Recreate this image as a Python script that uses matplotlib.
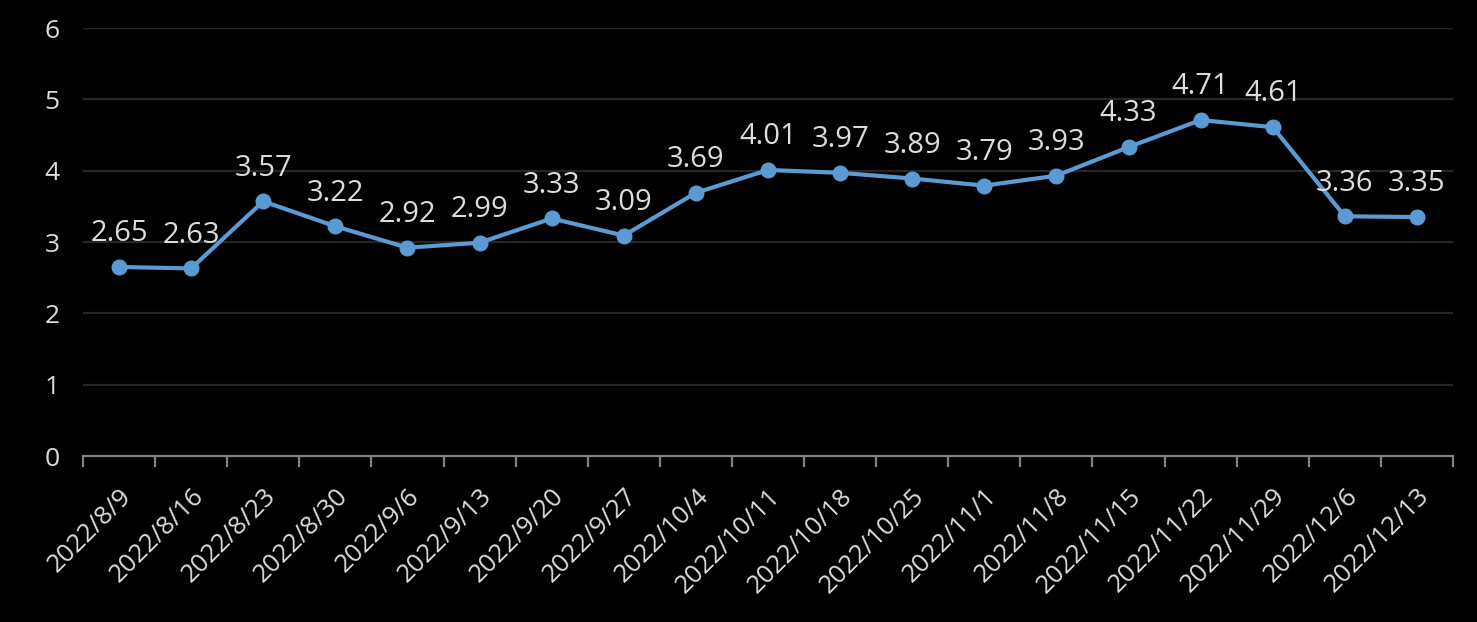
import numpy as np
import matplotlib
matplotlib.use('Agg')
import matplotlib.pyplot as plt

plt.rcParams['font.family'] = ['Open Sans', 'DejaVu Sans']

# Data
dates = ['2022/8/9', '2022/8/16', '2022/8/23', '2022/8/30', '2022/9/6', '2022/9/13',
         '2022/9/20', '2022/9/27', '2022/10/4', '2022/10/11', '2022/10/18', '2022/10/25',
         '2022/11/1', '2022/11/8', '2022/11/15', '2022/11/22', '2022/11/29', '2022/12/6',
         '2022/12/13']
values = [2.65, 2.63, 3.57, 3.22, 2.92, 2.99, 3.33, 3.09, 3.69, 4.01, 3.97, 3.89,
          3.79, 3.93, 4.33, 4.71, 4.61, 3.36, 3.35]
y_ticks = [0, 1, 2, 3, 4, 5, 6]

text_color = '#DCDCDC'
line_color = '#5B9BD5'

fig = plt.figure(figsize=(14.77, 6.22), dpi=100, facecolor='black')
ax = fig.add_axes([83 / 1477, 1 - 456 / 622, (1453 - 83) / 1477, (456 - 28) / 622])
ax.set_facecolor('black')

x = np.arange(len(dates))
ax.plot(x, values, color=line_color, linewidth=3, marker='o', markersize=10.5,
        zorder=3)

for xi, v in zip(x, values):
    ax.annotate(f'{v:.2f}', (xi, v), xytext=(0, 18.5), textcoords='offset points',
                ha='center', va='baseline', fontsize=21, color=text_color, zorder=4)

ax.set_xlim(-0.5, len(dates) - 0.5)
ax.set_ylim(0, 6)
ax.set_yticks(y_ticks)
ax.grid(axis='y', color='#262626', linewidth=1.6, zorder=0)

# category boundaries as tick marks, labels centered on categories
ax.set_xticks(np.arange(len(dates) + 1) - 0.5)
ax.set_xticklabels([])
ax.set_xticks(x, minor=True)
ax.set_xticklabels(dates, minor=True, rotation=45, ha='right', va='top',
                   rotation_mode='anchor', fontsize=18.5, color=text_color)
ax.tick_params(axis='x', which='major', length=8, width=1.6, color='#808080')
ax.tick_params(axis='x', which='minor', length=0, pad=20)
ax.tick_params(axis='y', length=0, pad=17, labelsize=19, labelcolor=text_color)

for s in ['top', 'right', 'left']:
    ax.spines[s].set_visible(False)
ax.spines['bottom'].set_color('#808080')
ax.spines['bottom'].set_linewidth(1.6)

fig.savefig('out.png', dpi=100, facecolor='black')
